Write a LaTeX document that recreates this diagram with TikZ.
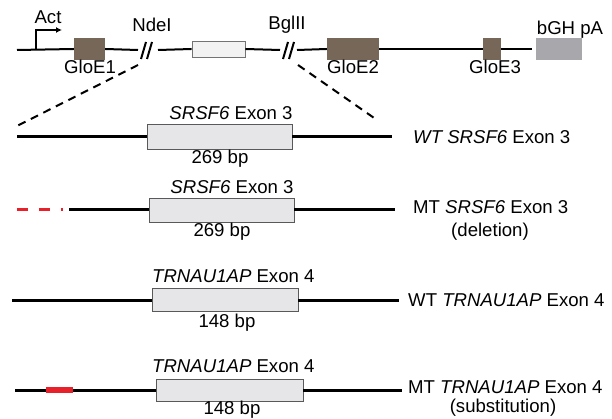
\documentclass[tikz,border=0pt]{standalone}
\usepackage{fontspec}
\setmainfont{Liberation Sans}
\usepackage{xcolor}
\usepackage{tikz}
\usetikzlibrary{arrows.meta,positioning}
\definecolor{gloe}{RGB}{118,103,88}
\definecolor{pagray}{RGB}{167,167,172}
\definecolor{exfill}{RGB}{230,230,232}
\definecolor{mutred}{RGB}{232,32,42}

\begin{document}
\begin{tikzpicture}[x=1pt,y=-1pt,font=\fontsize{18.6}{21}\selectfont,
    every node/.style={inner sep=0pt},
    gene/.style={fill=gloe,minimum height=22pt},
    exonbox/.style={draw=black!65,fill=exfill,line width=0.8pt,minimum width=145pt,minimum height=24pt},
    topline/.style={line width=2pt},
    dna/.style={line width=3pt}]
    \useasboundingbox (0,0) rectangle (612,419);

    \coordinate (vstart) at (17,50);
    \coordinate (ndeL) at (138,50);
    \coordinate (ndeR) at (158,50);
    \coordinate (bglL) at (280,50);
    \coordinate (bglR) at (297,50);
    \coordinate (actfoot) at (36,50);
    \coordinate (acttip) at (62,30);
    \foreach \name/\x/\w/\lx/\lbl in {gloeA/89.5/31/90/GloE1,gloeB/353/52/353/GloE2,gloeC/492/18/495/GloE3} {
      \node[gene,minimum width=\w pt] (\name) at (\x,49) {};
      \node (\name-lbl) at (\lx,67) {\lbl};
    }
    \node[draw=black!55,fill=black!5,line width=0.8pt,minimum width=53pt,minimum height=16pt] (linker) at (218.5,49) {};
    \node[fill=pagray,minimum width=46pt,minimum height=22pt] (pA) at (559,49) {};
    \node (pA-lbl) at (570,30) {bGH pA};
    \node (act) at (48,17) {Act};
    \node (nde) at (152,25) {NdeI};
    \node (bgl) at (287,25) {BglII};
    \draw[topline] (vstart) -- (gloeA.west);
    \draw[topline] (gloeA.east) -- (ndeL);
    \draw[topline] (ndeR) -- (linker.west);
    \draw[topline] (linker.east) -- (bglL);
    \draw[topline] (bglR) -- (gloeB.west);
    \draw[topline] (gloeB.east) -- (gloeC.west);
    \draw[topline,shorten >=4pt] (gloeC.east) -- (pA.west);
    \foreach \x in {141,147,283,289} \draw[topline] (\x,59) -- (\x+5,42);
    \draw[line width=1.6pt,-{Latex[length=6pt,width=6pt]}] (actfoot) |- (acttip);

    \coordinate (ndeCut) at (138,65);
    \coordinate (bglCut) at (298,65);
    \coordinate (zoomL) at (15,127);
    \coordinate (zoomR) at (377,120);
    \draw[line width=2pt,dash pattern=on 8pt off 6pt] (ndeCut) -- (zoomL);
    \draw[line width=2pt,dash pattern=on 8pt off 6pt] (bglCut) -- (zoomR);

    \node[exonbox,minimum height=25pt] (exA) at (219.5,137) {};
    \coordinate (aL) at (17,137);
    \coordinate (aR) at (392,137);
    \draw[dna] (aL) -- (exA.west);
    \draw[dna] (exA.east) -- (aR);
    \node (exA-top) at (231,113) {\textit{SRSF6} Exon 3};
    \node (exA-bp) at (220,159) {269 bp};
    \node[anchor=west] (exA-name) at (413,137) {\textit{WT SRSF6} Exon 3};

    \node[exonbox] (exB) at (221.5,210) {};
    \coordinate (bDel) at (17,210);
    \coordinate (bL) at (69,210);
    \coordinate (bR) at (395,210);
    \draw[mutred,line width=3pt,dash pattern=on 11pt off 11pt] (bDel) -- ++(46,0);
    \draw[dna] (bL) -- (exB.west);
    \draw[dna] (exB.east) -- (bR);
    \node (exB-top) at (232,187) {\textit{SRSF6} Exon 3};
    \node (exB-bp) at (222,232) {269 bp};
    \node[anchor=west] (exB-name) at (413,207) {MT \textit{SRSF6} Exon 3};
    \node (exB-note) at (490,232) {(deletion)};

    \node[exonbox,minimum width=146pt,minimum height=23pt] (exC) at (225,300) {};
    \coordinate (cL) at (12,300);
    \coordinate (cR) at (399,300);
    \draw[dna] (cL) -- (exC.west);
    \draw[dna] (exC.east) -- (cR);
    \node[anchor=west] (exC-top) at (152,276) {\textit{TRNAU1AP} Exon 4};
    \node (exC-bp) at (227,323) {148 bp};
    \node[anchor=west] (exC-name) at (408,300) {WT \textit{TRNAU1AP} Exon 4};

    \node[exonbox,minimum width=147pt,minimum height=22pt] (exD) at (229.5,390) {};
    \node[fill=mutred,minimum width=27pt,minimum height=6pt] (subst) at (59.5,390) {};
    \coordinate (dL) at (15,390);
    \coordinate (dR) at (402,390);
    \draw[dna] (dL) -- (subst.west);
    \draw[dna] (subst.east) -- (exD.west);
    \draw[dna] (exD.east) -- (dR);
    \node[anchor=west] (exD-top) at (152,366) {\textit{TRNAU1AP} Exon 4};
    \node (exD-bp) at (232,410) {148 bp};
    \node[anchor=west] (exD-name) at (408,387) {MT \textit{TRNAU1AP} Exon 4};
    \node (exD-note) at (503,408) {(substitution)};
  \end{tikzpicture}
\end{document}
